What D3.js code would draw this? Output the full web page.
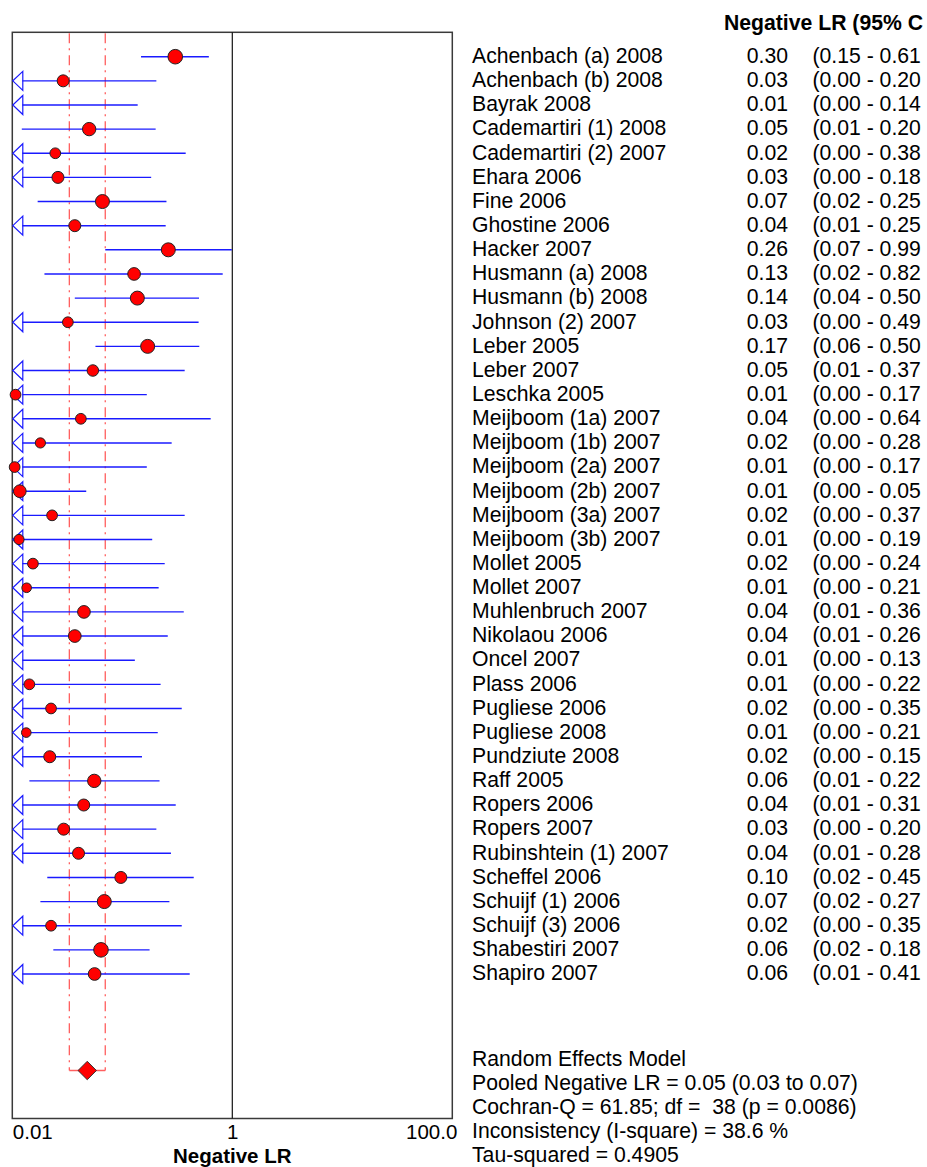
<!DOCTYPE html>
<html>
<head>
<meta charset="utf-8">
<script src="https://d3js.org/d3.v7.min.js"></script>
<style>
  body { margin: 0; background: #fff; }
  text { font-family: "Liberation Sans", Arial, sans-serif; white-space: pre; }
</style>
</head>
<body>
<div id="forest"></div>
<script>
  // studies, top to bottom
  var studies = ["Achenbach (a) 2008", "Achenbach (b) 2008", "Bayrak 2008", "Cademartiri (1) 2008",
    "Cademartiri (2) 2007", "Ehara 2006", "Fine 2006", "Ghostine 2006", "Hacker 2007",
    "Husmann (a) 2008", "Husmann (b) 2008", "Johnson (2) 2007", "Leber 2005", "Leber 2007",
    "Leschka 2005", "Meijboom (1a) 2007", "Meijboom (1b) 2007", "Meijboom (2a) 2007",
    "Meijboom (2b) 2007", "Meijboom (3a) 2007", "Meijboom (3b) 2007", "Mollet 2005",
    "Mollet 2007", "Muhlenbruch 2007", "Nikolaou 2006", "Oncel 2007", "Plass 2006",
    "Pugliese 2006", "Pugliese 2008", "Pundziute 2008", "Raff 2005", "Ropers 2006",
    "Ropers 2007", "Rubinshtein (1) 2007", "Scheffel 2006", "Schuijf (1) 2006",
    "Schuijf (3) 2006", "Shabestiri 2007", "Shapiro 2007"];

  // negative likelihood ratio and 95% CI
  var lr = [0.303, 0.029, 0.008, 0.050, 0.0246, 0.026, 0.066, 0.037, 0.262, 0.128, 0.137, 0.032,
    0.170, 0.054, 0.0107, 0.042, 0.018, 0.0105, 0.0117, 0.023, 0.0115, 0.0154, 0.0135, 0.0448,
    0.037, 0.008, 0.0143, 0.0225, 0.0134, 0.0219, 0.0556, 0.0446, 0.0293, 0.040, 0.097, 0.0686,
    0.0225, 0.064, 0.056];
  var lo = [0.148, 0.004, 0.0005, 0.0122, 0.002, 0.004, 0.017, 0.007, 0.070, 0.0196, 0.037, 0.002,
    0.057, 0.007, 0.001, 0.002, 0.001, 0.001, 0.002, 0.001, 0.001, 0.001, 0.001, 0.008,
    0.008, 0.0005, 0.001, 0.001, 0.001, 0.002, 0.0143, 0.008, 0.003, 0.008, 0.0208, 0.018,
    0.002, 0.0236, 0.008];
  var hi = [0.612, 0.204, 0.138, 0.201, 0.377, 0.183, 0.252, 0.248, 0.99, 0.818, 0.498, 0.494,
    0.501, 0.369, 0.167, 0.636, 0.281, 0.167, 0.047, 0.369, 0.187, 0.243, 0.214, 0.362,
    0.259, 0.130, 0.223, 0.347, 0.210, 0.151, 0.218, 0.306, 0.204, 0.277, 0.446, 0.268,
    0.347, 0.177, 0.41];
  // study weights (%), drive marker size
  var weight = [3.7, 2.5, 1.5, 3.1, 2.0, 2.5, 3.4, 2.5, 3.4, 2.8, 3.4, 2.0, 3.4, 2.3, 2.0, 2.0,
    1.8, 2.0, 2.8, 2.0, 1.8, 2.0, 1.6, 2.8, 2.8, 1.5, 2.0, 2.0, 1.6, 2.5, 3.1, 2.5, 2.5, 2.5,
    2.5, 3.4, 2.0, 3.7, 2.8];

  var pooled = {lr: 0.048, lo: 0.033, hi: 0.070};
  var axisTicks = [0.01, 1, 100];
  var axisLabels = ["0.01", "1", "100.0"];
  var summary = ["Random Effects Model", "Pooled Negative LR = 0.05 (0.03 to 0.07)",
    "Cochran-Q = 61.85; df =  38 (p = 0.0086)", "Inconsistency (I-square) = 38.6 %",
    "Tau-squared = 0.4905"];

  var W = 927, H = 1167;
  var box = {left: 12.3, right: 452.3, top: 32.3, bottom: 1118.5};
  var fs = "21.2px";
  var blue = "#1a1aff", pink = "#ff5f5f";

  var svg = d3.select("#forest").append("svg")
    .attr("width", W).attr("height", H);

  var x = d3.scaleLog().domain([0.01, 100]).range([box.left, box.right]);
  var y = d3.scaleLinear().domain([0, studies.length - 1]).range([56.7, 974]);
  var r = d3.scaleSqrt().domain([0, 3.7]).range([0, 7.3]);
  var fmt = d3.format(".2f");

  var data = studies.map(function(s, i) {
    return {name: s, lr: lr[i], lo: lo[i], hi: hi[i], w: weight[i], i: i};
  });

  // frame
  svg.append("rect")
    .attr("x", box.left).attr("y", box.top)
    .attr("width", box.right - box.left).attr("height", box.bottom - box.top)
    .attr("fill", "none").attr("stroke", "#3a3a3a").attr("stroke-width", 1.5);

  svg.append("line")
    .attr("x1", x(1)).attr("x2", x(1))
    .attr("y1", box.top).attr("y2", box.bottom)
    .attr("stroke", "#111").attr("stroke-width", 1.2);

  // pooled CI guides
  var yPool = 1070.5;
  [pooled.lo, pooled.hi].forEach(function(v) {
    svg.append("line")
      .attr("x1", x(v)).attr("x2", x(v))
      .attr("y1", box.top + 1).attr("y2", yPool)
      .attr("stroke", pink).attr("stroke-width", 1.3)
      .attr("stroke-dasharray", "10,5,2,5");
  });
  svg.append("line")
    .attr("x1", x(pooled.lo)).attr("x2", x(pooled.hi))
    .attr("y1", yPool).attr("y2", yPool)
    .attr("stroke", pink).attr("stroke-width", 1.3);

  // CI lines
  var g = svg.append("g");
  var arrowW = 10, arrowH = 9.5;

  g.selectAll(".ci")
    .data(data)
    .enter()
    .append("line")
      .attr("x1", function(d) { return d.lo < 0.01 ? box.left + arrowW : x(d.lo); })
      .attr("x2", function(d) { return x(Math.min(d.hi, 100)); })
      .attr("y1", function(d) { return y(d.i); })
      .attr("y2", function(d) { return y(d.i); })
      .attr("stroke", blue).attr("stroke-width", 1.4);

  // clipped lower limits
  g.selectAll(".arrow")
    .data(data.filter(function(d) { return d.lo < 0.01; }))
    .enter()
    .append("path")
      .attr("d", function(d) {
        var yy = y(d.i), x0 = box.left + 0.5;
        return "M" + (x0 + arrowW) + "," + (yy - arrowH) + "L" + x0 + "," + yy +
          "L" + (x0 + arrowW) + "," + (yy + arrowH) + "Z";
      })
      .attr("fill", "none").attr("stroke", blue).attr("stroke-width", 1.2);

  // point estimates
  g.selectAll(".dot")
    .data(data.filter(function(d) { return d.lr >= 0.01; }))
    .enter()
    .append("circle")
      .attr("cx", function(d) { return x(d.lr); })
      .attr("cy", function(d) { return y(d.i); })
      .attr("r", function(d) { return r(d.w); })
      .attr("fill", "#ff0000").attr("stroke", "#222").attr("stroke-width", 1);

  // pooled diamond
  var dx = x(pooled.lr), dh = 9.2;
  svg.append("path")
    .attr("d", "M" + dx + "," + (yPool - dh) + "L" + (dx + dh) + "," + yPool +
      "L" + dx + "," + (yPool + dh) + "L" + (dx - dh) + "," + yPool + "Z")
    .attr("fill", "#ff0000").attr("stroke", "#333").attr("stroke-width", 1);

  // x axis
  var xAxis = d3.axisBottom(x)
    .tickValues(axisTicks)
    .tickSize(0)
    .tickPadding(0)
    .tickFormat(function(d, i) { return axisLabels[i]; });

  var ax = svg.append("g")
    .attr("transform", "translate(0," + box.bottom + ")")
    .call(xAxis);
  ax.select(".domain").remove();
  ax.selectAll("text")
    .attr("dy", null)
    .attr("y", 20.8)
    .attr("fill", "#000")
    .style("font-family", '"Liberation Sans", Arial, sans-serif')
    .style("font-size", "20.5px")
    .attr("text-anchor", function(d, i) { return i === 0 ? "start" : (i === 2 ? "end" : "middle"); })
    .attr("dx", function(d, i) { return i === 2 ? 4.5 : 0; });

  svg.append("text")
    .attr("x", x(1)).attr("y", 1162.5)
    .attr("text-anchor", "middle")
    .style("font-size", "20.5px").style("font-weight", "bold")
    .text("Negative LR");

  // header
  svg.append("text")
    .attr("x", 724).attr("y", 30)
    .style("font-size", fs).style("font-weight", "bold")
    .text("Negative LR (95% C");

  // study labels
  var txt = svg.append("g").style("font-size", fs);
  txt.selectAll(".name")
    .data(data).enter().append("text")
      .attr("x", 472)
      .attr("y", function(d) { return y(d.i) + 6.3; })
      .text(function(d) { return d.name; });
  txt.selectAll(".val")
    .data(data).enter().append("text")
      .attr("x", 788)
      .attr("y", function(d) { return y(d.i) + 6.3; })
      .attr("text-anchor", "end")
      .text(function(d) { return fmt(d.lr); });
  txt.selectAll(".ci")
    .data(data).enter().append("text")
      .attr("x", 812.5)
      .attr("y", function(d) { return y(d.i) + 6.3; })
      .text(function(d) { return "(" + fmt(d.lo) + " - " + fmt(d.hi); });

  // summary block
  txt.selectAll(".sum")
    .data(summary).enter().append("text")
      .attr("x", 472)
      .attr("y", function(d, i) { return 1065.5 + i * 24.2; })
      .text(function(d) { return d; });
</script>
</body>
</html>
